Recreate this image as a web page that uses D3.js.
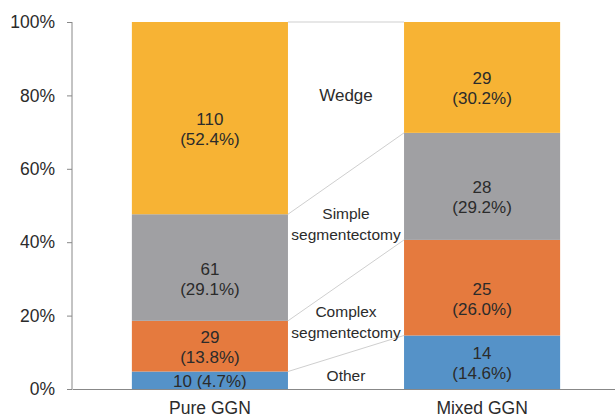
<!DOCTYPE html>
<html>
<head>
<meta charset="utf-8">
<script src="https://cdn.jsdelivr.net/npm/d3@7"></script>
<style>
  body { margin: 0; background: #fff; }
  text { font-family: "Liberation Sans", Arial, sans-serif; fill: #2b2b2b; }
</style>
</head>
<body>
<svg width="615" height="419"></svg>
<script>
// data
var groups = ["Pure GGN", "Mixed GGN"];
var types = ["Other", "Complex segmentectomy", "Simple segmentectomy", "Wedge"];
var pureCounts = [10, 29, 61, 110];
var mixedCounts = [14, 25, 28, 29];
var pureLabels = ["4.7%", "13.8%", "29.1%", "52.4%"];
var mixedLabels = ["14.6%", "26.0%", "29.2%", "30.2%"];
var yTicks = [0, 0.2, 0.4, 0.6, 0.8, 1];
var colors = ["#5592c8", "#e57a3e", "#a0a0a3", "#f7b334"];

var svg = d3.select("svg");
var margin = {top: 22, right: -5, bottom: 30, left: 72};
var width = +svg.attr("width") - margin.left - margin.right;
var height = +svg.attr("height") - margin.top - margin.bottom;

var x = d3.scaleBand().domain(groups).range([0, width]).paddingInner(0.4265).paddingOuter(0.22);
var y = d3.scaleLinear().domain([0, 1]).range([height, 0]);

var g = svg.append("g").attr("transform", "translate(" + margin.left + "," + margin.top + ")");

// build stacked rows
var counts = [pureCounts, mixedCounts];
var pcts = [pureLabels, mixedLabels];
var segs = [];
groups.forEach(function(grp, gi) {
  var total = d3.sum(counts[gi]);
  var acc = 0;
  counts[gi].forEach(function(c, ti) {
    segs.push({group: grp, type: ti, count: c, pct: pcts[gi][ti], y0: acc / total, y1: (acc + c) / total});
    acc += c;
  });
});

g.selectAll(".seg")
  .data(segs)
  .enter().append("rect")
  .attr("class", "seg")
  .attr("x", function(d) { return x(d.group); })
  .attr("width", x.bandwidth())
  .attr("y", function(d) { return y(d.y1); })
  .attr("height", function(d) { return y(d.y0) - y(d.y1); })
  .attr("fill", function(d) { return colors[d.type]; });

// connector lines between segment tops
var pureSegs = segs.filter(function(d) { return d.group == groups[0]; });
var mixSegs = segs.filter(function(d) { return d.group == groups[1]; });
pureSegs.forEach(function(d, i) {
  g.append("line")
    .attr("x1", x(groups[0]) + x.bandwidth())
    .attr("x2", x(groups[1]))
    .attr("y1", y(d.y1))
    .attr("y2", y(mixSegs[i].y1))
    .attr("stroke", "#cfcfcf")
    .attr("stroke-width", 1);
});

// value labels (first line near segment middle, small segments centred)
segs.forEach(function(d) {
  var cx = x(d.group) + x.bandwidth() / 2;
  var cy = (y(d.y0) + y(d.y1)) / 2;
  var h = y(d.y0) - y(d.y1);
  var t = g.append("text").attr("text-anchor", "middle").attr("font-size", 17);
  if (d.group == groups[0] && d.type == 0) {
    t.attr("x", cx).attr("y", cy + 7).text(d.count + " (" + d.pct + ")");
  } else {
    var top = h < 70 ? cy - 9.5 : cy + 1;
    t.append("tspan").attr("x", cx).attr("y", top + 6).text(d.count);
    t.append("tspan").attr("x", cx).attr("y", top + 26).text("(" + d.pct + ")");
  }
});

// type labels in the gap
var midX = (x(groups[0]) + x.bandwidth() + x(groups[1])) / 2;
var typeY = [0.038, 0.183, 0.45, 0.80];
types.forEach(function(name, i) {
  var t = g.append("text").attr("text-anchor", "middle").attr("font-size", i == 3 ? 17 : 15.5);
  var words = name.split(" ");
  words.forEach(function(w, k) {
    t.append("tspan").attr("x", midX).attr("y", y(typeY[i]) + 5.5 + (k - (words.length - 1) / 2) * 21).text(w);
  });
});

// axes
var yAxis = g.append("g")
  .call(d3.axisLeft(y).tickValues(yTicks).tickFormat(d3.format(".0%")).tickSize(5).tickPadding(12));
yAxis.select(".domain").attr("stroke", "#888").attr("d", "M0," + height + "V0");
yAxis.selectAll(".tick line").attr("stroke", "#888");
yAxis.selectAll("text").attr("font-size", 17.5).style("font-family", "Liberation Sans, Arial, sans-serif").attr("fill", "#2b2b2b");

var xAxis = g.append("g")
  .attr("transform", "translate(0," + height + ")")
  .call(d3.axisBottom(x).tickSize(0).tickPadding(13));
xAxis.select(".domain").attr("stroke", "#888");
xAxis.selectAll("text").attr("font-size", 17.5).style("font-family", "Liberation Sans, Arial, sans-serif").attr("fill", "#2b2b2b");
</script>
</body>
</html>
